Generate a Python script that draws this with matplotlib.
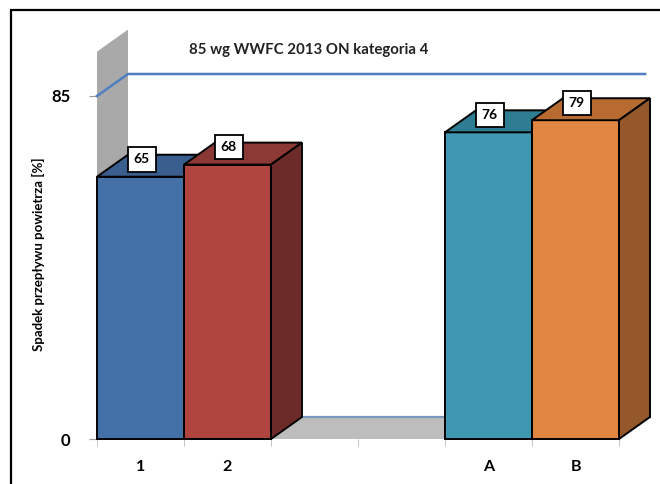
import matplotlib.pyplot as plt
from matplotlib.patches import Polygon, Rectangle

# chart data
categories = ["1", "2", "", "", "A", "B"]
values = [65, 68, None, None, 76, 79]
front_colors = ["#4470A8", "#B0443F", None, None, "#3F98B1", "#E08640"]
top_colors = ["#3A5F8F", "#8C3835", None, None, "#2E7D93", "#B76B31"]
side_colors = ["#2D4A70", "#6C2B29", None, None, "#235E70", "#94582A"]
limit = 85
limit_label = "85 wg WWFC 2013 ON kategoria 4"
ylabel = "Spadek przepływu powietrza [%]"

# 3D depth of the bars in data units
DX = 0.356
DY = 5.45

W, H = 660, 484
fig = plt.figure(figsize=(W / 100, H / 100), dpi=100)
ax = fig.add_axes([97 / W, (H - 439) / H, 522 / W, 343 / H])
ax.set_xlim(0, len(categories))
ax.set_ylim(0, limit)
for s in ax.spines.values():
    s.set_visible(False)
ax.set_facecolor("none")

font = "Lato"


def poly(pts, color, z, lw=1.4, ec="black"):
    p = Polygon(pts, closed=True, facecolor=color, edgecolor=ec, lw=lw,
                zorder=z, clip_on=False, joinstyle="miter")
    ax.add_patch(p)


n = len(categories)
wall_top = 96.0
# left wall
poly([(0, 0), (DX, DY), (DX, wall_top + DY), (0, wall_top)], "#A9A9A9", 1, lw=0)
# floor
poly([(0, 0), (n, 0), (n + DX, DY), (DX, DY)], "#BDBDBD", 1, lw=0)
ax.plot([DX, n + DX], [DY, DY], color="#7A98BE", lw=1.6, zorder=1.5,
        clip_on=False)

# limit line (on the wall, then across the back)
ax.plot([0, DX, n + 0.3], [limit, limit + DY, limit + DY], color="#4F7FC0",
        lw=1.8, zorder=2, clip_on=False)
ax.text(2.43, 96.4, limit_label, ha="center", va="center", fontsize=10.8,
        fontweight="bold", family=font, color="#222222")

# bars
for i, v in enumerate(values):
    if v is None:
        continue
    x0, x1 = i, i + 1
    poly([(x0, 0), (x1, 0), (x1, v), (x0, v)], front_colors[i], 3 + i)
    poly([(x0, v), (x1, v), (x1 + DX, v + DY), (x0 + DX, v + DY)],
         top_colors[i], 3 + i)
    poly([(x1, 0), (x1 + DX, DY), (x1 + DX, v + DY), (x1, v)],
         side_colors[i], 3 + i)

for i, v in enumerate(values):
    if v is None:
        continue
    ax.annotate(str(v), (i + 0.5, v), xytext=(1, 12.5),
                textcoords="offset points", ha="center", va="center",
                fontsize=10, fontweight="bold", family=font, zorder=20,
                bbox=dict(boxstyle="square,pad=0.45", fc="white",
                          ec="black", lw=1.3))

# axes ticks
ax.set_yticks([0, limit])
ax.set_yticklabels(["0", str(limit)], fontsize=12, fontweight="bold",
                   family=font)
ax.tick_params(axis="y", length=6, color="#999999", pad=13)

pos = [i + 0.5 for i, c in enumerate(categories) if c]
ax.set_xticks(pos)
ax.set_xticklabels([c for c in categories if c], fontsize=11.5,
                   fontweight="bold", family=font)
ax.set_xticks(range(n + 1), minor=True)
ax.tick_params(axis="x", which="major", length=0, pad=15)
ax.tick_params(axis="x", which="minor", length=5, color="#BBBBBB")

ax.set_ylabel(ylabel, fontsize=9.5, fontweight="bold", family=font)
ax.yaxis.set_label_coords(-0.1, 0.54)

# outer frame
fig.add_artist(Rectangle((11 / W, -0.1), 1.2, (H - 10) / H + 0.1,
                         transform=fig.transFigure, fill=False,
                         ec="black", lw=1.6))

fig.savefig("out.png", dpi=100)
